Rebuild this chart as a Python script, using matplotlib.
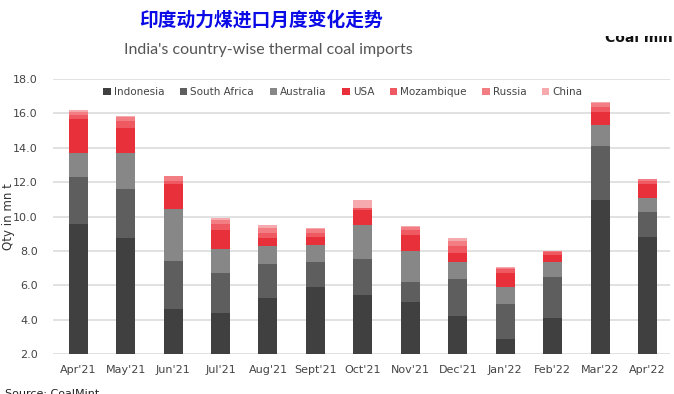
import matplotlib.pyplot as plt
import numpy as np
from matplotlib.transforms import Bbox

months = ["Apr'21", "May'21", "Jun'21", "Jul'21", "Aug'21", "Sept'21", "Oct'21",
          "Nov'21", "Dec'21", "Jan'22", "Feb'22", "Mar'22", "Apr'22"]

indonesia = [9.59, 8.76, 4.63, 4.37, 5.26, 5.90, 5.43, 5.02, 4.21, 2.85, 4.11, 10.95, 8.82]
south_africa = [2.71, 2.82, 2.79, 2.32, 1.96, 1.47, 2.08, 1.15, 2.13, 2.04, 2.35, 3.16, 1.44]
australia = [1.42, 2.14, 2.99, 1.41, 1.06, 0.97, 1.99, 1.82, 1.03, 0.99, 0.91, 1.24, 0.83]
usa = [1.95, 1.41, 1.47, 1.11, 0.48, 0.44, 0.85, 0.92, 0.48, 0.85, 0.39, 0.74, 0.78]
mozambique = [0.25, 0.40, 0.20, 0.35, 0.30, 0.25, 0.12, 0.30, 0.45, 0.20, 0.15, 0.30, 0.20]
russia = [0.17, 0.25, 0.25, 0.25, 0.30, 0.25, 0.05, 0.18, 0.30, 0.10, 0.08, 0.23, 0.14]
china = [0.10, 0.06, 0.05, 0.10, 0.14, 0.06, 0.43, 0.05, 0.13, 0.04, 0.00, 0.05, 0.00]

series = [("Indonesia", indonesia, "#404040"),
          ("South Africa", south_africa, "#5e5e5e"),
          ("Australia", australia, "#878787"),
          ("USA", usa, "#e8303a"),
          ("Mozambique", mozambique, "#ef5a62"),
          ("Russia", russia, "#f27d83"),
          ("China", china, "#f7aaad")]

fig = plt.figure(figsize=(6.74, 3.94), dpi=100)
ax = fig.add_axes([0.0786, 0.1015, 0.9154, 0.698])

x = np.arange(len(months))
bottom = np.zeros(len(months))
for name, vals, col in series:
    ax.bar(x, vals, width=0.4, bottom=bottom, color=col, label=name, zorder=3)
    bottom += np.array(vals)

ax.set_ylim(2, 18)
ax.set_xlim(-0.53, 12.47)
ax.set_yticks(np.arange(2, 19, 2))
ax.set_yticklabels([f"{v:.1f}" for v in np.arange(2, 19, 2)])
ax.set_xticks(x)
ax.set_xticklabels(months)
ax.tick_params(axis='both', length=0, labelsize=8, colors='#444444')
ax.tick_params(axis='y', pad=11)
ax.tick_params(axis='x', pad=8)
ax.grid(axis='y', color='#dedede', linewidth=1.3, zorder=0)
for s in ax.spines.values():
    s.set_visible(False)

ax.set_ylabel("Qty in mn t", fontsize=8.5, color='#333333')
ax.yaxis.set_label_coords(-0.062, 0.5)

ax.legend(loc='upper center', bbox_to_anchor=(0.47, 1.005), ncol=7, frameon=False,
          fontsize=7.5, handlelength=0.7, handleheight=0.7, handletextpad=0.3,
          columnspacing=1.5, labelcolor='#444444')

fig.text(0.387, 0.948, "印度动力煤进口月度变化走势", fontsize=13.5, color='#0a0ae6',
         ha='center', va='center', family=['Noto Sans CJK SC', 'DejaVu Sans'], weight='bold')
fig.text(0.398, 0.873, "India's country-wise thermal coal imports", fontsize=11.5,
         color='#555555', ha='center', va='center', family='Lato')

logo = fig.text(0.897, 0.903, "Coal mint", fontsize=10, weight='bold', color='#111111',
                ha='left', va='center')
logo.set_clip_box(Bbox.from_extents(0, 0, 674, 394 - 36))

fig.text(0.008, 0.0, "Source: CoalMint", fontsize=8, color='#222222', ha='left', va='center')

fig.savefig("out.png", dpi=100)
